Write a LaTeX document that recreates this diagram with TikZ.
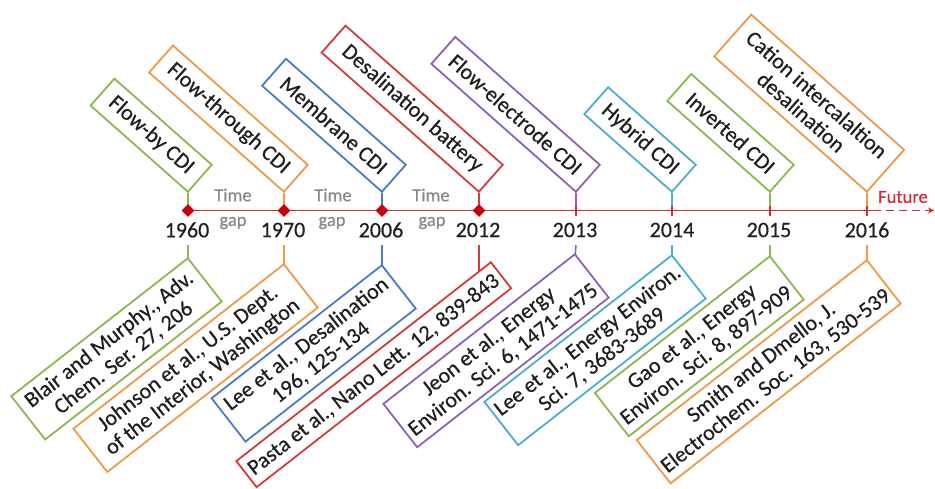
\documentclass[tikz,border=0pt]{standalone}
\usepackage{fontspec}
\setmainfont{Carlito}[FakeBold=0.4]
\usetikzlibrary{arrows.meta,shapes.geometric,calc}
\definecolor{cgreen}{HTML}{8CB850}
\definecolor{corange}{HTML}{EE9A48}
\definecolor{cblue}{HTML}{4A7BC8}
\definecolor{cred}{HTML}{D23C3C}
\definecolor{cpurple}{HTML}{8E62B4}
\definecolor{ccyan}{HTML}{4AAFCB}
\definecolor{lred}{HTML}{D42A32}
\definecolor{dred}{HTML}{C8000A}
\definecolor{txt}{HTML}{1E1E1E}
\definecolor{gtxt}{HTML}{888888}
\begin{document}
\begin{tikzpicture}[x=1pt,y=-1pt,
  box/.style={draw=#1, line width=1.8pt, fill=white, text=txt,
    font=\fontsize{22}{23.5}\selectfont, align=center, inner sep=0pt,
    minimum height=36pt},
  topbox/.style={box=#1, rotate=-41.5, anchor=south east},
  botbox/.style={box=#1, rotate=38, anchor=north east, minimum height=55pt},
  stem/.style={draw=#1, line width=1.5pt},
  year/.style={font=\fontsize{22}{24}\selectfont, text=txt},
  gaptxt/.style={font=\fontsize{18.5}{20}\selectfont, text=gtxt},
  tl/.style={draw=lred, line width=1.8pt},
  diam/.style={diamond, fill=dred, inner sep=0pt, minimum size=13pt},
  tickmark/.style={draw=lred, line width=1.8pt}
]
\useasboundingbox (0,0) rectangle (935,488);

% timeline
\coordinate (ls) at (183,210.5);
\coordinate (le) at (873,210.5);
\coordinate (la) at (934,210.5);
\draw[tl] (ls) -- (le);
\draw[tl, dashed, dash pattern=on 8pt off 5pt, -{Stealth[length=6pt,width=6pt]}] (le) -- (la);
\node[font=\fontsize{18.5}{20}\selectfont, text=lred] (fut) at (903,197) {Future};

% line points
\foreach \n/\x in {1/188,2/284,3/382,4/479,5/576,6/672,7/770,8/867}
  \coordinate (p\n) at (\x,210.5);

% year labels
\node[year] (y1) at (187,230) {1960};
\node[year] (y2) at (283,230) {1970};
\node[year] (y3) at (381,230) {2006};
\node[year] (y4) at (478,230) {2012};
\node[year] (y5) at (575,230) {2013};
\node[year] (y6) at (672,230) {2014};
\node[year] (y7) at (769,230) {2015};
\node[year] (y8) at (867,230) {2016};

% time gap labels
\node[gaptxt] (tg1) at (233,195) {Time};
\node[gaptxt] (gp1) at (233,223) {gap};
\node[gaptxt] (tg2) at (333,195) {Time};
\node[gaptxt] (gp2) at (332,223) {gap};
\node[gaptxt] (tg3) at (431,195) {Time};
\node[gaptxt] (gp3) at (432,223) {gap};

% stem anchor coordinates
\coordinate (u1) at (188,193);
\coordinate (u2) at (284,193);
\coordinate (u3) at (382,193);
\coordinate (u4) at (479,193);
\coordinate (u5) at (576,193);
\coordinate (u6) at (672,193);
\coordinate (u7) at (770,193);
\coordinate (u8) at (867,193);

% stems (drawn first, boxes cover ends)
\draw[stem=cgreen]  (u1) -- (p1);
\draw[stem=corange] (u2) -- (p2);
\draw[stem=cblue]   (u3) -- (p3);
\draw[stem=cred]    (u4) -- (p4);
\draw[stem=cpurple] (u5) -- (p5);
\draw[stem=ccyan]   (u6) -- (p6);
\draw[stem=cgreen]  (u7) -- (p7);
\draw[stem=corange] (u8) -- (p8);

\coordinate (v1) at (188,245);
\coordinate (v2) at (284,245);
\coordinate (v3) at (382,245);
\coordinate (v4) at (479,245);
\coordinate (v5) at (576,245);
\coordinate (v6) at (672,245);
\coordinate (v7) at (770,245);
\coordinate (v8) at (867,245);
\coordinate (w1) at (188,262);
\coordinate (w2) at (284,268);
\coordinate (w3) at (382,269);
\coordinate (w4) at (479,275);
\coordinate (w5) at (575,258);
\coordinate (w6) at (672,259);
\coordinate (w7) at (770,260);
\coordinate (w8) at (867,264);
\draw[stem=cgreen]  (v1) -- (w1);
\draw[stem=corange] (v2) -- (w2);
\draw[stem=cblue]   (v3) -- (w3);
\draw[stem=cred]    (v4) -- (w4);
\draw[stem=cpurple] (v5) -- (w5);
\draw[stem=ccyan]   (v6) -- (w6);
\draw[stem=cgreen]  (v7) -- (w7);
\draw[stem=corange] (v8) -- (w8);

% top boxes
\node[topbox=cgreen,  minimum width=130pt] (t1) at (u1) {Flow-by CDI};
\node[topbox=corange, minimum width=180pt] (t2) at (u2) {Flow-through CDI};
\node[topbox=cblue,   minimum width=160pt] (t3) at (u3) {Membrane CDI};
\node[topbox=cred,    minimum width=210pt] (t4) at (u4) {Desalination battery};
\node[topbox=cpurple, minimum width=193pt] (t5) at (u5) {Flow-electrode CDI};
\node[topbox=ccyan,   minimum width=117pt] (t6) at (u6) {Hybrid CDI};
\node[topbox=cgreen,  minimum width=137pt] (t7) at (u7) {Inverted CDI};
\node[topbox=corange, minimum width=204pt, minimum height=56pt] (t8) at (u8) {Cation intercalaltion\\desalination};

% bottom boxes
\node[botbox=cgreen,  minimum width=224pt] (b1) at (188,257) {Blair and Murphy., Adv.\\Chem. Ser. 27, 206};
\node[botbox=corange, minimum width=267pt] (b2) at (284,263) {Johnson et al., U.S. Dept.\\of the Interior, Washington};
\node[botbox=cblue,   minimum width=216pt] (b3) at (382,264) {Lee et al., Desalination\\196, 125-134};
\node[botbox=cred,    minimum width=323pt, minimum height=33pt] (b4) at (491,261) {Pasta et al., Nano Lett. 12, 839-843};
\node[botbox=cpurple, minimum width=243pt] (b5) at (575,253) {Jeon et al., Energy\\Environ. Sci. 6, 1471-1475};
\node[botbox=ccyan,   minimum width=238pt] (b6) at (672,254) {Lee et al., Energy Environ.\\Sci. 7, 3683-3689};
\node[botbox=cgreen,  minimum width=222pt] (b7) at (770,255) {Gao et al., Energy\\Environ. Sci. 8, 897-909};
\node[botbox=corange, minimum width=292pt] (b8) at (867,259) {Smith and Dmello, J.\\Electrochem. Soc. 163, 530-539};

% markers on the line
\node[diam] (d1) at (p1) {};
\node[diam] (d2) at (p2) {};
\node[diam] (d3) at (p3) {};
\node[diam] (d4) at (p4) {};
\foreach \n in {5,...,8}
  \draw[tickmark] ($(p\n)+(0,-5)$) -- ($(p\n)+(0,5)$);
\end{tikzpicture}
\end{document}
